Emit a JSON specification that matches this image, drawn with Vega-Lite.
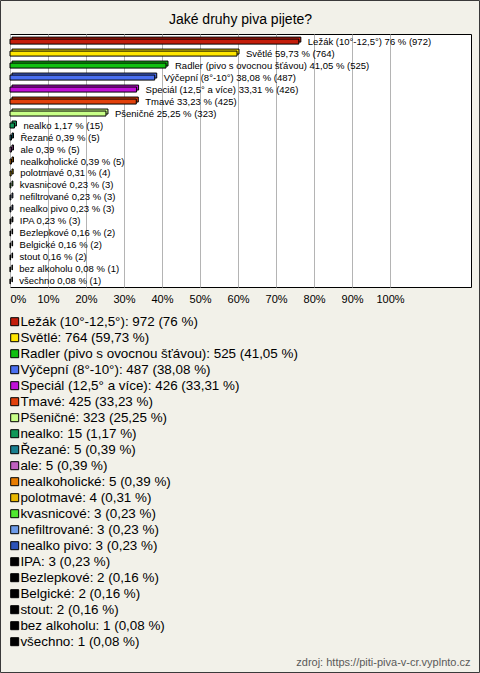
{
  "$schema": "https://vega.github.io/schema/vega-lite/v6.json",
  "autosize": {"type": "none"},
  "width": 461,
  "height": 253,
  "padding": {"left": 10, "top": 34, "right": 9, "bottom": 386},
  "background": "#F2F1E9",
  "title": {"text": "Jaké druhy piva pijete?", "fontSize": 14, "font": "Liberation Sans", "fontWeight": "normal", "color": "#000", "offset": -26.5, "anchor": "middle", "frame": "group"},
  "config": {"view": {"fill": "white", "stroke": "#000", "strokeWidth": 1}, "font": "Liberation Sans"},
  "data": {"values": [
    {"name": "Ležák (10°-12,5°)", "count": 972, "value": 76, "bar": "Ležák (10°-12,5°) 76 % (972)", "legend": "Ležák (10°-12,5°): 972 (76 %)"},
    {"name": "Světlé", "count": 764, "value": 59.73, "bar": "Světlé 59,73 % (764)", "legend": "Světlé: 764 (59,73 %)"},
    {"name": "Radler (pivo s ovocnou šťávou)", "count": 525, "value": 41.05, "bar": "Radler (pivo s ovocnou šťávou) 41,05 % (525)", "legend": "Radler (pivo s ovocnou šťávou): 525 (41,05 %)"},
    {"name": "Výčepní (8°-10°)", "count": 487, "value": 38.08, "bar": "Výčepní (8°-10°) 38,08 % (487)", "legend": "Výčepní (8°-10°): 487 (38,08 %)"},
    {"name": "Speciál (12,5° a více)", "count": 426, "value": 33.31, "bar": "Speciál (12,5° a více) 33,31 % (426)", "legend": "Speciál (12,5° a více): 426 (33,31 %)"},
    {"name": "Tmavé", "count": 425, "value": 33.23, "bar": "Tmavé 33,23 % (425)", "legend": "Tmavé: 425 (33,23 %)"},
    {"name": "Pšeničné", "count": 323, "value": 25.25, "bar": "Pšeničné 25,25 % (323)", "legend": "Pšeničné: 323 (25,25 %)"},
    {"name": "nealko", "count": 15, "value": 1.17, "bar": "nealko 1,17 % (15)", "legend": "nealko: 15 (1,17 %)"},
    {"name": "Řezané", "count": 5, "value": 0.39, "bar": "Řezané 0,39 % (5)", "legend": "Řezané: 5 (0,39 %)"},
    {"name": "ale", "count": 5, "value": 0.39, "bar": "ale 0,39 % (5)", "legend": "ale: 5 (0,39 %)"},
    {"name": "nealkoholické", "count": 5, "value": 0.39, "bar": "nealkoholické 0,39 % (5)", "legend": "nealkoholické: 5 (0,39 %)"},
    {"name": "polotmavé", "count": 4, "value": 0.31, "bar": "polotmavé 0,31 % (4)", "legend": "polotmavé: 4 (0,31 %)"},
    {"name": "kvasnicové", "count": 3, "value": 0.23, "bar": "kvasnicové 0,23 % (3)", "legend": "kvasnicové: 3 (0,23 %)"},
    {"name": "nefiltrované", "count": 3, "value": 0.23, "bar": "nefiltrované 0,23 % (3)", "legend": "nefiltrované: 3 (0,23 %)"},
    {"name": "nealko pivo", "count": 3, "value": 0.23, "bar": "nealko pivo 0,23 % (3)", "legend": "nealko pivo: 3 (0,23 %)"},
    {"name": "IPA", "count": 3, "value": 0.23, "bar": "IPA 0,23 % (3)", "legend": "IPA: 3 (0,23 %)"},
    {"name": "Bezlepkové", "count": 2, "value": 0.16, "bar": "Bezlepkové 0,16 % (2)", "legend": "Bezlepkové: 2 (0,16 %)"},
    {"name": "Belgické", "count": 2, "value": 0.16, "bar": "Belgické 0,16 % (2)", "legend": "Belgické: 2 (0,16 %)"},
    {"name": "stout", "count": 2, "value": 0.16, "bar": "stout 0,16 % (2)", "legend": "stout: 2 (0,16 %)"},
    {"name": "bez alkoholu", "count": 1, "value": 0.08, "bar": "bez alkoholu 0,08 % (1)", "legend": "bez alkoholu: 1 (0,08 %)"},
    {"name": "všechno", "count": 1, "value": 0.08, "bar": "všechno 0,08 % (1)", "legend": "všechno: 1 (0,08 %)"}
  ]},
  "encoding": {
    "y": {"field": "name", "type": "nominal", "sort": null, "axis": null, "scale": {"paddingInner": 0, "paddingOuter": 0.05}},
    "x": {
      "field": "value", "type": "quantitative",
      "scale": {"domain": [0, 121.3], "nice": false, "zero": true},
      "axis": {
        "values": [0, 10, 20, 30, 40, 50, 60, 70, 80, 90, 100],
        "labelExpr": "datum.value + '%'",
        "grid": true, "gridColor": "#B4B4B4", "gridWidth": 1,
        "domain": false, "ticks": false,
        "labelFont": "Liberation Sans", "labelFontSize": 11, "labelColor": "#000", "labelPadding": 6, "labelFlush": true,
        "title": "zdroj: https://piti-piva-v-cr.vyplnto.cz",
        "titleFont": "Liberation Sans", "titleFontSize": 11, "titleFontWeight": "normal", "titleColor": "#5A5A5A",
        "titleAlign": "right", "titleBaseline": "alphabetic", "titleX": 460, "titleY": 378
      }
    }
  },
  "layer": [
    {
      "mark": {"type": "bar", "height": 5, "xOffset": 2, "yOffset": -1, "stroke": "#000", "strokeWidth": 1},
      "encoding": {
        "color": {
          "field": "legend", "type": "nominal", "sort": null,
          "scale": {"range": ["#C41E0C", "#FFE600", "#10C010", "#4A6FF0", "#C010D8", "#E2410C", "#C8FF88", "#109858", "#1A8090", "#C060C0", "#E87C00", "#E8B800", "#50E830", "#6C9AE8", "#2C52B8", "#000000", "#000000", "#000000", "#000000", "#000000", "#000000"]},
          "legend": {
            "orient": "none", "legendX": -2, "legendY": 281, "title": null, "padding": 0,
            "symbolType": "square", "symbolSize": 64, "symbolStrokeColor": "#000", "symbolStrokeWidth": 1, "symbolOpacity": 1,
            "labelFont": "Liberation Sans", "labelFontSize": 13.4, "labelColor": "#000", "labelOffset": -1, "labelLimit": 450,
            "rowPadding": 1
          }
        }
      }
    },
    {
      "mark": {"type": "bar", "height": 5, "yOffset": 1, "stroke": "#000", "strokeWidth": 1},
      "encoding": {
        "color": {"field": "legend", "type": "nominal", "sort": null}
      }
    },
    {
      "mark": {"type": "text", "align": "left", "baseline": "middle", "dx": 9, "yOffset": 1, "fontSize": 9.5, "font": "Liberation Sans", "color": "#000", "strokeWidth": 0},
      "encoding": {
        "text": {"field": "bar"},
        "stroke": {
          "field": "count", "type": "quantitative",
          "scale": {"range": ["transparent", "transparent"]},
          "legend": {
            "orient": "none", "legendX": -9.5, "legendY": -33.5, "direction": "vertical", "padding": 0,
            "gradientLength": 672, "gradientThickness": 479, "gradientStrokeColor": "#3A3A3A", "gradientStrokeWidth": 1,
            "labels": false, "values": [], "title": null
          }
        }
      }
    }
  ]
}
